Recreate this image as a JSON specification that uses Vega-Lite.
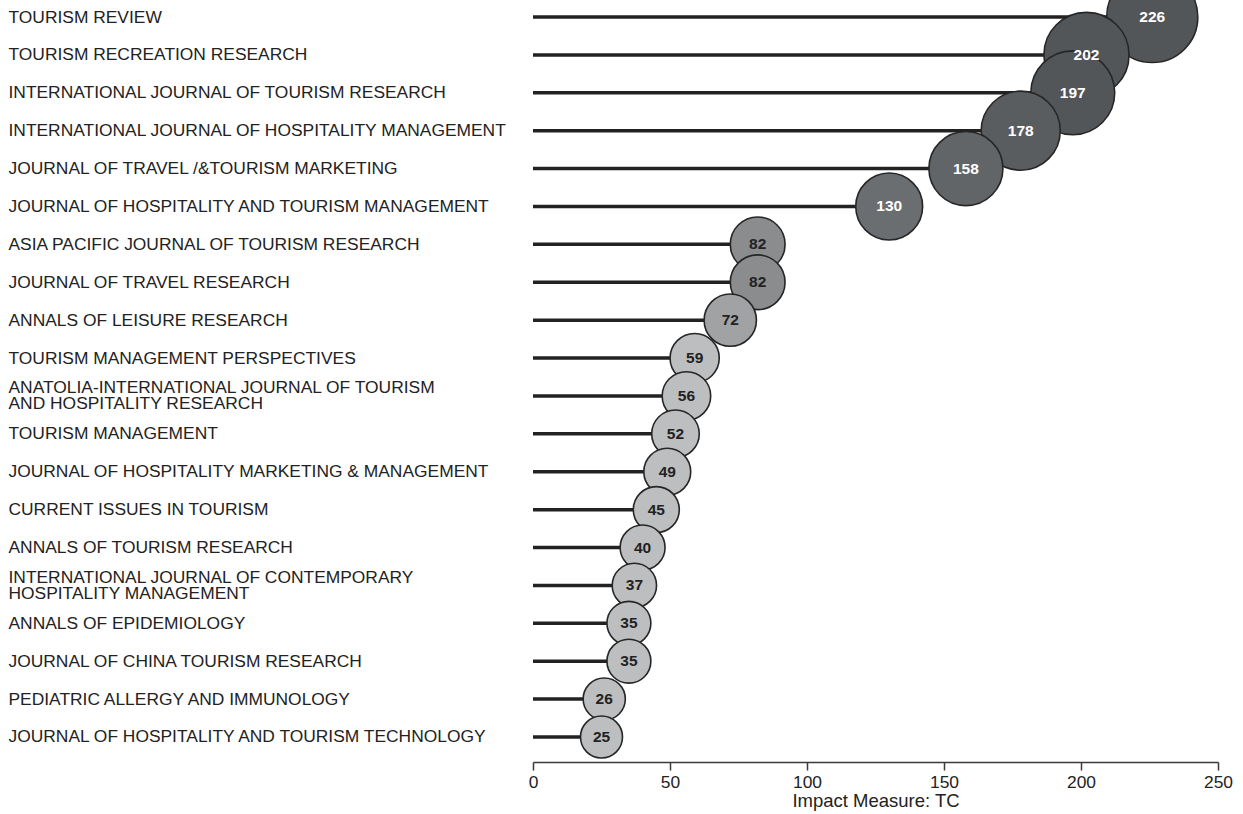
{
  "$schema": "https://vega.github.io/schema/vega-lite/v6.json",
  "width": 685,
  "height": 754,
  "autosize": {"type": "none"},
  "padding": {"left": 533, "top": 0, "right": 25, "bottom": 60},
  "background": "white",
  "config": {
    "view": {"stroke": null},
    "font": "Liberation Sans",
    "axis": {"labelFont": "Liberation Sans", "titleFont": "Liberation Sans", "labelColor": "#222222", "titleColor": "#222222", "grid": false}
  },
  "data": {
    "values": [
      {"journal": "TOURISM REVIEW", "value": 226, "zero": 0},
      {"journal": "TOURISM RECREATION RESEARCH", "value": 202, "zero": 0},
      {"journal": "INTERNATIONAL JOURNAL OF TOURISM RESEARCH", "value": 197, "zero": 0},
      {"journal": "INTERNATIONAL JOURNAL OF HOSPITALITY MANAGEMENT", "value": 178, "zero": 0},
      {"journal": "JOURNAL OF TRAVEL /&TOURISM MARKETING", "value": 158, "zero": 0},
      {"journal": "JOURNAL OF HOSPITALITY AND TOURISM MANAGEMENT", "value": 130, "zero": 0},
      {"journal": "ASIA PACIFIC JOURNAL OF TOURISM RESEARCH", "value": 82, "zero": 0},
      {"journal": "JOURNAL OF TRAVEL RESEARCH", "value": 82, "zero": 0},
      {"journal": "ANNALS OF LEISURE RESEARCH", "value": 72, "zero": 0},
      {"journal": "TOURISM MANAGEMENT PERSPECTIVES", "value": 59, "zero": 0},
      {"journal": "ANATOLIA-INTERNATIONAL JOURNAL OF TOURISM|AND HOSPITALITY RESEARCH", "value": 56, "zero": 0},
      {"journal": "TOURISM MANAGEMENT", "value": 52, "zero": 0},
      {"journal": "JOURNAL OF HOSPITALITY MARKETING & MANAGEMENT", "value": 49, "zero": 0},
      {"journal": "CURRENT ISSUES IN TOURISM", "value": 45, "zero": 0},
      {"journal": "ANNALS OF TOURISM RESEARCH", "value": 40, "zero": 0},
      {"journal": "INTERNATIONAL JOURNAL OF CONTEMPORARY|HOSPITALITY MANAGEMENT", "value": 37, "zero": 0},
      {"journal": "ANNALS OF EPIDEMIOLOGY", "value": 35, "zero": 0},
      {"journal": "JOURNAL OF CHINA TOURISM RESEARCH", "value": 35, "zero": 0},
      {"journal": "PEDIATRIC ALLERGY AND IMMUNOLOGY", "value": 26, "zero": 0},
      {"journal": "JOURNAL OF HOSPITALITY AND TOURISM TECHNOLOGY", "value": 25, "zero": 0}
    ]
  },
  "layer": [
    {
      "mark": {"type": "rule", "stroke": "#222222", "strokeWidth": 3.5},
      "encoding": {
        "y": {
          "field": "journal",
          "type": "nominal",
          "sort": null,
          "scale": {"type": "point", "padding": 0.449},
          "axis": {
            "title": null,
            "domain": false,
            "ticks": false,
            "tickSize": 0,
            "labelAlign": "left",
            "labelBaseline": "middle",
            "labelPadding": 525,
            "labelFontSize": 17.4,
            "labelLineHeight": 16,
            "labelLimit": 0,
            "labelOffset": {"condition": {"test": "indexof(datum.value, '|') >= 0", "value": -8}, "value": 0},
            "labelExpr": "split(datum.value, '|')"
          }
        },
        "x": {
          "field": "zero",
          "type": "quantitative",
          "scale": {"domain": [0, 250], "nice": false},
          "axis": {
            "title": "Impact Measure: TC",
            "titleFontSize": 18.5,
            "titleFontWeight": "normal",
            "titlePadding": 1,
            "values": [0, 50, 100, 150, 200, 250],
            "labelFontSize": 17.4,
            "labelPadding": 3,
            "labelFlush": false,
            "offset": 8,
            "domainColor": "#3a3a3a",
            "domainWidth": 1.5,
            "tickColor": "#3a3a3a",
            "tickWidth": 1.5,
            "tickSize": 8,
            "grid": false
          }
        },
        "x2": {"field": "value"}
      }
    },
    {
      "mark": {"type": "point", "filled": true, "shape": "circle", "opacity": 1, "stroke": "#262626", "strokeWidth": 1.6},
      "encoding": {
        "y": {"field": "journal", "type": "nominal", "sort": null},
        "x": {"field": "value", "type": "quantitative"},
        "size": {
          "field": "value",
          "type": "quantitative",
          "legend": null,
          "scale": {"type": "pow", "exponent": 1.5, "zero": false, "domain": [25, 226], "range": [1764, 8300]}
        },
        "color": {
          "field": "value",
          "type": "quantitative",
          "legend": null,
          "scale": {"domain": [25, 60, 82, 130, 158, 197, 226], "range": ["#bcbec0", "#bcbec0", "#8a8c8e", "#6b6e70", "#626567", "#535658", "#535658"]}
        }
      }
    },
    {
      "mark": {"type": "text", "fontWeight": "bold", "fontSize": 15.5, "font": "Liberation Sans", "baseline": "middle", "align": "center"},
      "encoding": {
        "y": {"field": "journal", "type": "nominal", "sort": null},
        "x": {"field": "value", "type": "quantitative"},
        "text": {"field": "value", "type": "quantitative"},
        "color": {
          "condition": {"test": "datum.value >= 100", "value": "#ffffff"},
          "value": "#222222"
        }
      }
    }
  ]
}
